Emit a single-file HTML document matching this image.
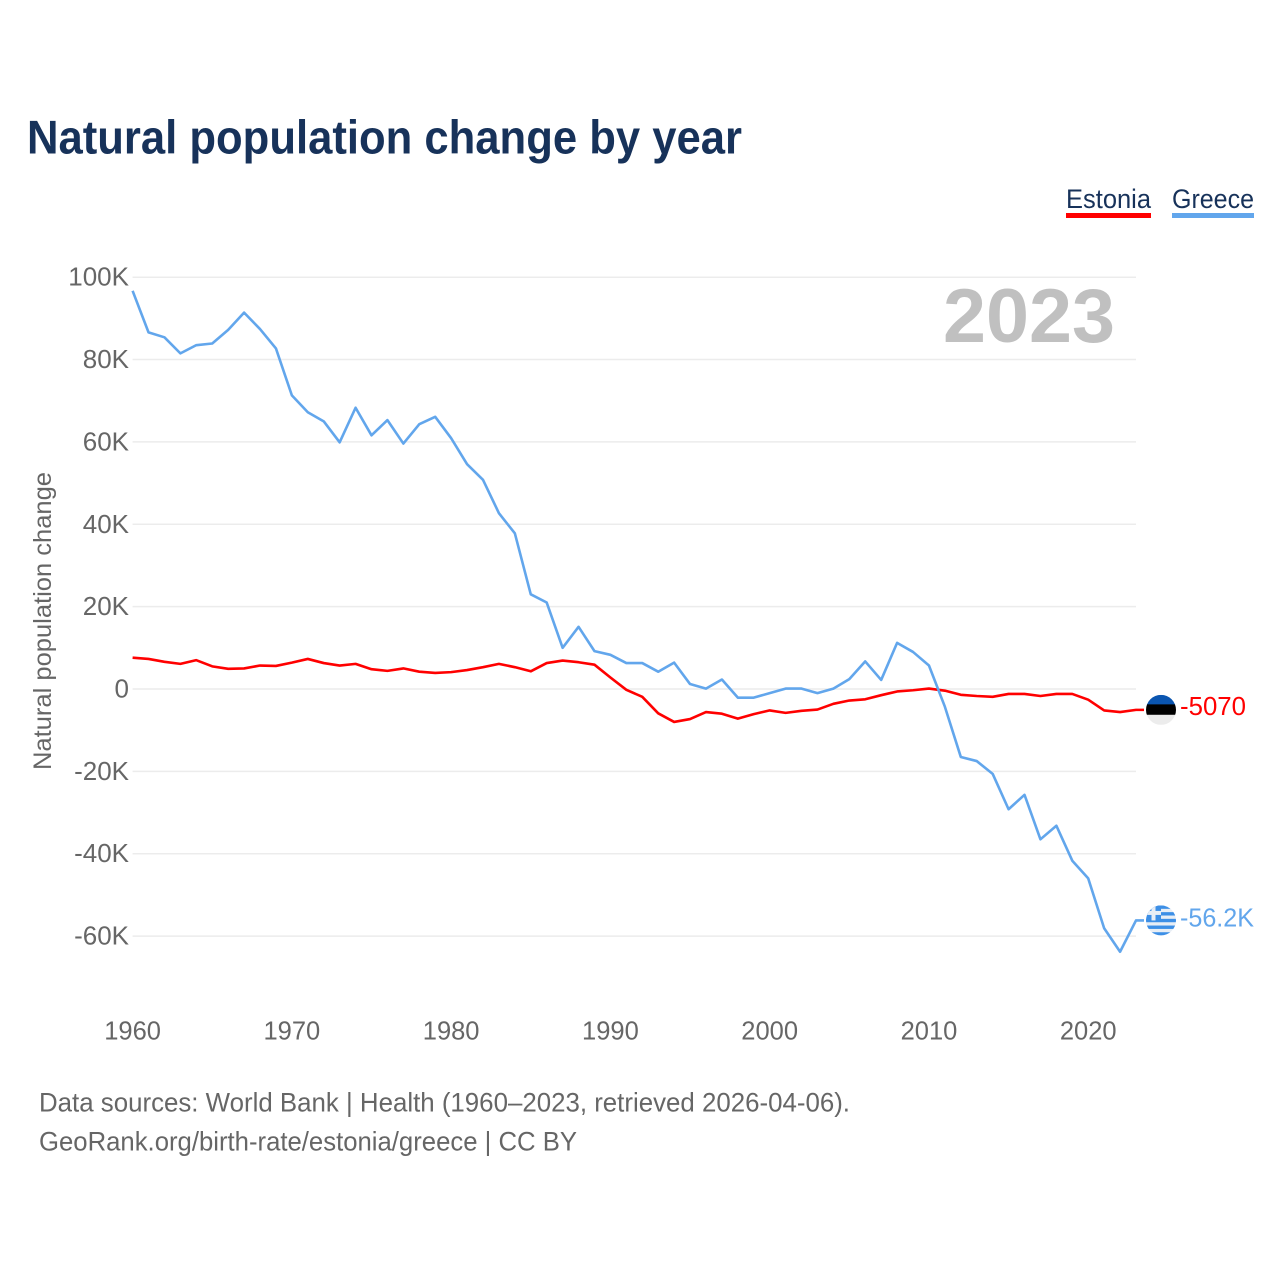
<!DOCTYPE html>
<html lang="en">
<head>
<meta charset="utf-8">
<title>Natural population change by year</title>
<style>
  html, body { margin: 0; padding: 0; background: #fff; }
  svg { display: block; font-family: "Liberation Sans", sans-serif; }
</style>
</head>
<body>
<svg id="chart" xmlns="http://www.w3.org/2000/svg" width="1280" height="1280" viewBox="0 0 1280 1280">
  <rect x="0" y="0" width="1280" height="1280" fill="#ffffff"/>
  <text x="27" y="153.5" font-size="47" font-weight="700" fill="#17325a" textLength="715" lengthAdjust="spacingAndGlyphs">Natural population change by year</text>

  <g>
    <text x="1066" y="208" font-size="27" fill="#17325a" textLength="85" lengthAdjust="spacingAndGlyphs">Estonia</text>
    <rect x="1066" y="213" width="85" height="5" fill="#ff0000"/>
  </g>
  <g>
    <text x="1172" y="208" font-size="27" fill="#17325a" textLength="82" lengthAdjust="spacingAndGlyphs">Greece</text>
    <rect x="1172" y="213" width="82" height="5" fill="#62a6ec"/>
  </g>

  <g id="grid"></g>
  <g id="y-labels"></g>
  <g id="x-labels"></g>

  <text x="943" y="342" font-size="76" font-weight="700" fill="#c0c0c0" textLength="172" lengthAdjust="spacingAndGlyphs">2023</text>

  <text transform="translate(51 621) rotate(-90)" text-anchor="middle" font-size="25" fill="#666666" textLength="298" lengthAdjust="spacingAndGlyphs">Natural population change</text>

  <g id="series"></g>

  <defs>
    <clipPath id="flag-clip"><circle cx="0" cy="0" r="15"/></clipPath>
  </defs>

  <g id="flag-estonia">
    <g clip-path="url(#flag-clip)">
      <rect x="-15" y="-15" width="30" height="10" fill="#0a55b0"/>
      <rect x="-15" y="-5.5" width="30" height="10.5" fill="#000000"/>
      <rect x="-15" y="5" width="30" height="10" fill="#ececec"/>
    </g>
  </g>
  <g id="flag-greece">
    <g clip-path="url(#flag-clip)">
      <rect x="-15" y="-15" width="30" height="30" fill="#e8eef5"/>
      <rect x="-15" y="-15" width="30" height="3.4" fill="#3d8fe6"/>
      <rect x="-15" y="-8.3" width="30" height="3.4" fill="#3d8fe6"/>
      <rect x="-15" y="-1.6" width="30" height="3.4" fill="#3d8fe6"/>
      <rect x="-15" y="5.1" width="30" height="3.4" fill="#3d8fe6"/>
      <rect x="-15" y="11.8" width="30" height="3.4" fill="#3d8fe6"/>
      <rect x="-15" y="-15" width="15" height="15" fill="#3d8fe6"/>
      <rect x="-9.5" y="-15" width="4" height="15" fill="#e8eef5"/>
      <rect x="-15" y="-9.5" width="15" height="4" fill="#e8eef5"/>
    </g>
  </g>
  <text id="label-estonia" x="1180" font-size="26" fill="#ff0000" textLength="66" lengthAdjust="spacingAndGlyphs"></text>
  <text id="label-greece" x="1180" font-size="26" fill="#62a6ec" textLength="74" lengthAdjust="spacingAndGlyphs"></text>

  <text x="39" y="1111.5" font-size="27" fill="#666666" textLength="811" lengthAdjust="spacingAndGlyphs">Data sources: World Bank | Health (1960–2023, retrieved 2026-04-06).</text>
  <text x="39" y="1150.5" font-size="27" fill="#666666" textLength="538" lengthAdjust="spacingAndGlyphs">GeoRank.org/birth-rate/estonia/greece | CC BY</text>
</svg>

<script>
const firstYear = 1960;
const lastYear = 2023;
const xTickYears = [1960, 1970, 1980, 1990, 2000, 2010, 2020];
const yTickValues = [100, 80, 60, 40, 20, 0, -20, -40, -60];
const estoniaValues = [7.6, 7.3, 6.6, 6.1, 7.0, 5.5, 4.9, 5.0, 5.7, 5.6,
  6.4, 7.3, 6.3, 5.7, 6.1, 4.8, 4.4, 5.0, 4.2, 3.9,
  4.1, 4.6, 5.3, 6.1, 5.3, 4.3, 6.3, 6.9, 6.5, 5.9,
  2.8, -0.2, -1.9, -5.9, -8.0, -7.3, -5.6, -6.0, -7.2, -6.1,
  -5.2, -5.8, -5.3, -5.0, -3.6, -2.8, -2.5, -1.5, -0.6, -0.3,
  0.1, -0.4, -1.4, -1.7, -1.9, -1.2, -1.2, -1.7, -1.2, -1.2,
  -2.6, -5.2, -5.6, -5.07];
const greeceValues = [96.7, 86.6, 85.4, 81.5, 83.5, 83.9, 87.2, 91.4, 87.4, 82.7,
  71.3, 67.2, 65.0, 59.9, 68.3, 61.6, 65.3, 59.6, 64.3, 66.1,
  60.9, 54.6, 50.8, 42.7, 37.8, 23.0, 21.0, 10.0, 15.1, 9.2,
  8.3, 6.3, 6.3, 4.2, 6.4, 1.2, 0.1, 2.3, -2.1, -2.1,
  -1.0, 0.1, 0.1, -1.0, 0.1, 2.4, 6.7, 2.2, 11.2, 9.0,
  5.7, -4.3, -16.5, -17.5, -20.6, -29.2, -25.7, -36.5, -33.2, -41.7,
  -46.0, -58.1, -63.8, -56.2];

const SVG_NS = 'http://www.w3.org/2000/svg';
function xScale(year) { return 132.6 + (year - firstYear) * (1136 - 132.6) / (lastYear - firstYear); }
function yScale(value) { return 689 - value * 4.118; }
function formatTick(value) { return value === 0 ? '0' : value + 'K'; }
function formatEnd(value) {
  return Math.abs(value) < 10 ? String(Math.round(value * 1000)) : value.toFixed(1) + 'K';
}

const gridGroup = document.getElementById('grid');
const yLabelGroup = document.getElementById('y-labels');
const xLabelGroup = document.getElementById('x-labels');
const seriesGroup = document.getElementById('series');

yTickValues.forEach(function (value) {
  const line = document.createElementNS(SVG_NS, 'line');
  
  
  line.setAttribute('x1', xScale(firstYear));
  line.setAttribute('x2', xScale(lastYear));
  line.setAttribute('y1', yScale(value));
  line.setAttribute('y2', yScale(value));
  line.setAttribute('stroke', '#ececec');
  line.setAttribute('stroke-width', '1.5');
  gridGroup.appendChild(line);

  const label = document.createElementNS(SVG_NS, 'text');
  
  
  label.setAttribute('x', 129);
  label.setAttribute('y', yScale(value) + 8.5);
  label.setAttribute('text-anchor', 'end');
  label.setAttribute('font-size', '26');
  label.setAttribute('fill', '#666666');
  label.textContent = formatTick(value);
  yLabelGroup.appendChild(label);
});

xTickYears.forEach(function (year) {
  const label = document.createElementNS(SVG_NS, 'text');
  
  
  label.setAttribute('x', xScale(year));
  label.setAttribute('y', 1039.5);
  label.setAttribute('text-anchor', 'middle');
  label.setAttribute('font-size', '25.5');
  label.setAttribute('fill', '#666666');
  label.textContent = String(year);
  xLabelGroup.appendChild(label);
});

function buildPoints(values) {
  const pts = values.map(function (value, i) {
    return xScale(firstYear + i).toFixed(2) + ',' + yScale(value).toFixed(2);
  });
  const endValue = values[values.length - 1];
  pts.push((xScale(lastYear) + 8).toFixed(2) + ',' + yScale(endValue).toFixed(2));
  return pts.join(' ');
}

const estoniaLine = document.createElementNS(SVG_NS, 'polyline');


estoniaLine.setAttribute('points', buildPoints(estoniaValues));
estoniaLine.setAttribute('fill', 'none');
estoniaLine.setAttribute('stroke', '#ff0000');
estoniaLine.setAttribute('stroke-width', '2.6');
estoniaLine.setAttribute('stroke-linejoin', 'round');
seriesGroup.appendChild(estoniaLine);

const greeceLine = document.createElementNS(SVG_NS, 'polyline');


greeceLine.setAttribute('points', buildPoints(greeceValues));
greeceLine.setAttribute('fill', 'none');
greeceLine.setAttribute('stroke', '#62a6ec');
greeceLine.setAttribute('stroke-width', '2.6');
greeceLine.setAttribute('stroke-linejoin', 'round');
seriesGroup.appendChild(greeceLine);

const estoniaEnd = estoniaValues[estoniaValues.length - 1];
const greeceEnd = greeceValues[greeceValues.length - 1];
const flagX = xScale(lastYear) + 25;
document.getElementById('flag-estonia').setAttribute('transform', 'translate(' + flagX + ' ' + yScale(estoniaEnd) + ')');
document.getElementById('flag-greece').setAttribute('transform', 'translate(' + flagX + ' ' + yScale(greeceEnd) + ')');

const estoniaLabel = document.getElementById('label-estonia');
estoniaLabel.setAttribute('y', yScale(estoniaEnd) + 5);
estoniaLabel.textContent = formatEnd(estoniaEnd);
const greeceLabel = document.getElementById('label-greece');
greeceLabel.setAttribute('y', yScale(greeceEnd) + 6);
greeceLabel.textContent = formatEnd(greeceEnd);
</script>
</body>
</html>
